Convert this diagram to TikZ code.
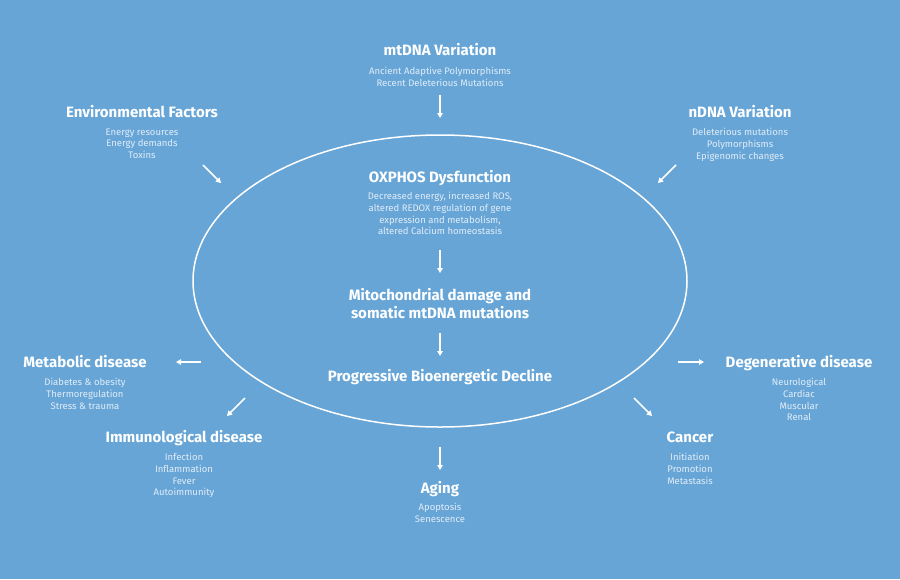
\documentclass[tikz,border=0pt]{standalone}
\usepackage{fontspec}
\setmainfont{Fira Sans}
\usepackage{xcolor}
\definecolor{mblue}{HTML}{66A5D6}
\definecolor{mpale}{HTML}{E2EDF8}
\usepackage{tikz}
\usetikzlibrary{arrows.meta,positioning,shapes.geometric}

\begin{document}
\begin{tikzpicture}[x=1pt,y=1pt,
  ttl/.style={text=white,font=\fontsize{15}{18}\selectfont\bfseries,align=center,
              inner sep=0pt,text height=10.3pt,text depth=0pt},
  sub/.style={text=mpale,font=\fontsize{9.5}{11.6}\selectfont,align=center,inner sep=0pt},
  arr/.style={-{Triangle[length=5pt,width=5.5pt]},line width=1.5pt,white},
  node distance=11pt]
\fill[mblue] (0,-579) rectangle (900,0);
% the cell
\node[ellipse,draw=white,line width=1.5pt,minimum width=494pt,minimum height=292pt,inner sep=0pt] (cell) at (440,-281) {};
% causes
\node[ttl] (mt) at (440,-50) {mtDNA Variation};
\node[sub,below=12pt of mt] (mtsub) {Ancient Adaptive Polymorphisms\\Recent Deleterious Mutations};
\node[ttl] (env) at (142,-112) {Environmental Factors};
\node[sub,below=of env] (envsub) {Energy resources\\Energy demands\\Toxins};
\node[ttl] (nd) at (740,-112) {nDNA Variation};
\node[sub,below=of nd] (ndsub) {Deleterious mutations\\Polymorphisms\\Epigenomic changes};
% inside the cell
\node[ttl] (ox) at (440,-177) {OXPHOS Dysfunction};
\node[sub,below=10pt of ox] (oxsub) {Decreased energy, increased ROS,\\altered REDOX regulation of gene\\expression and metabolism,\\altered Calcium homeostasis};
\node[ttl] (mito) at (440,-313) {Mitochondrial damage and\\somatic mtDNA mutations};
\node[ttl] (prog) at (440,-376) {Progressive Bioenergetic Decline};
% outcomes
\node[ttl] (metab) at (85,-362) {Metabolic disease};
\node[sub,below=of metab] (metabsub) {Diabetes \& obesity\\Thermoregulation\\Stress \& trauma};
\node[ttl] (imm) at (184,-437) {Immunological disease};
\node[sub,below=of imm] (immsub) {Infection\\Inflammation\\Fever\\Autoimmunity};
\node[ttl] (degen) at (799,-362) {Degenerative disease};
\node[sub,below=of degen] (degensub) {Neurological\\Cardiac\\Muscular\\Renal};
\node[ttl] (canc) at (690,-437) {Cancer};
\node[sub,below=of canc] (cancsub) {Initiation\\Promotion\\Metastasis};
\node[ttl] (aging) at (440,-488) {Aging};
\node[sub,below=10pt of aging] (agingsub) {Apoptosis\\Senescence};
% arrow ends
\coordinate (mtA) at (440,-95);    \coordinate (mtB) at (440,-118);
\coordinate (envA) at (203,-165);  \coordinate (envB) at (221,-183);
\coordinate (ndA) at (676,-165);   \coordinate (ndB) at (658,-183);
\coordinate (oxA) at (440,-250);   \coordinate (oxB) at (440,-273);
\coordinate (mitoA) at (440,-333); \coordinate (mitoB) at (440,-356);
\coordinate (metabA) at (201,-362); \coordinate (metabB) at (176,-362);
\coordinate (immA) at (245,-398);  \coordinate (immB) at (227,-416);
\coordinate (degenA) at (678,-362); \coordinate (degenB) at (704,-362);
\coordinate (cancA) at (634,-398); \coordinate (cancB) at (652,-416);
\coordinate (agingA) at (440,-447); \coordinate (agingB) at (440,-470);
\foreach \n in {mt,env,nd,ox,mito,metab,imm,degen,canc,aging}
  \draw[arr] (\n A) -- (\n B);
\end{tikzpicture}
\end{document}
